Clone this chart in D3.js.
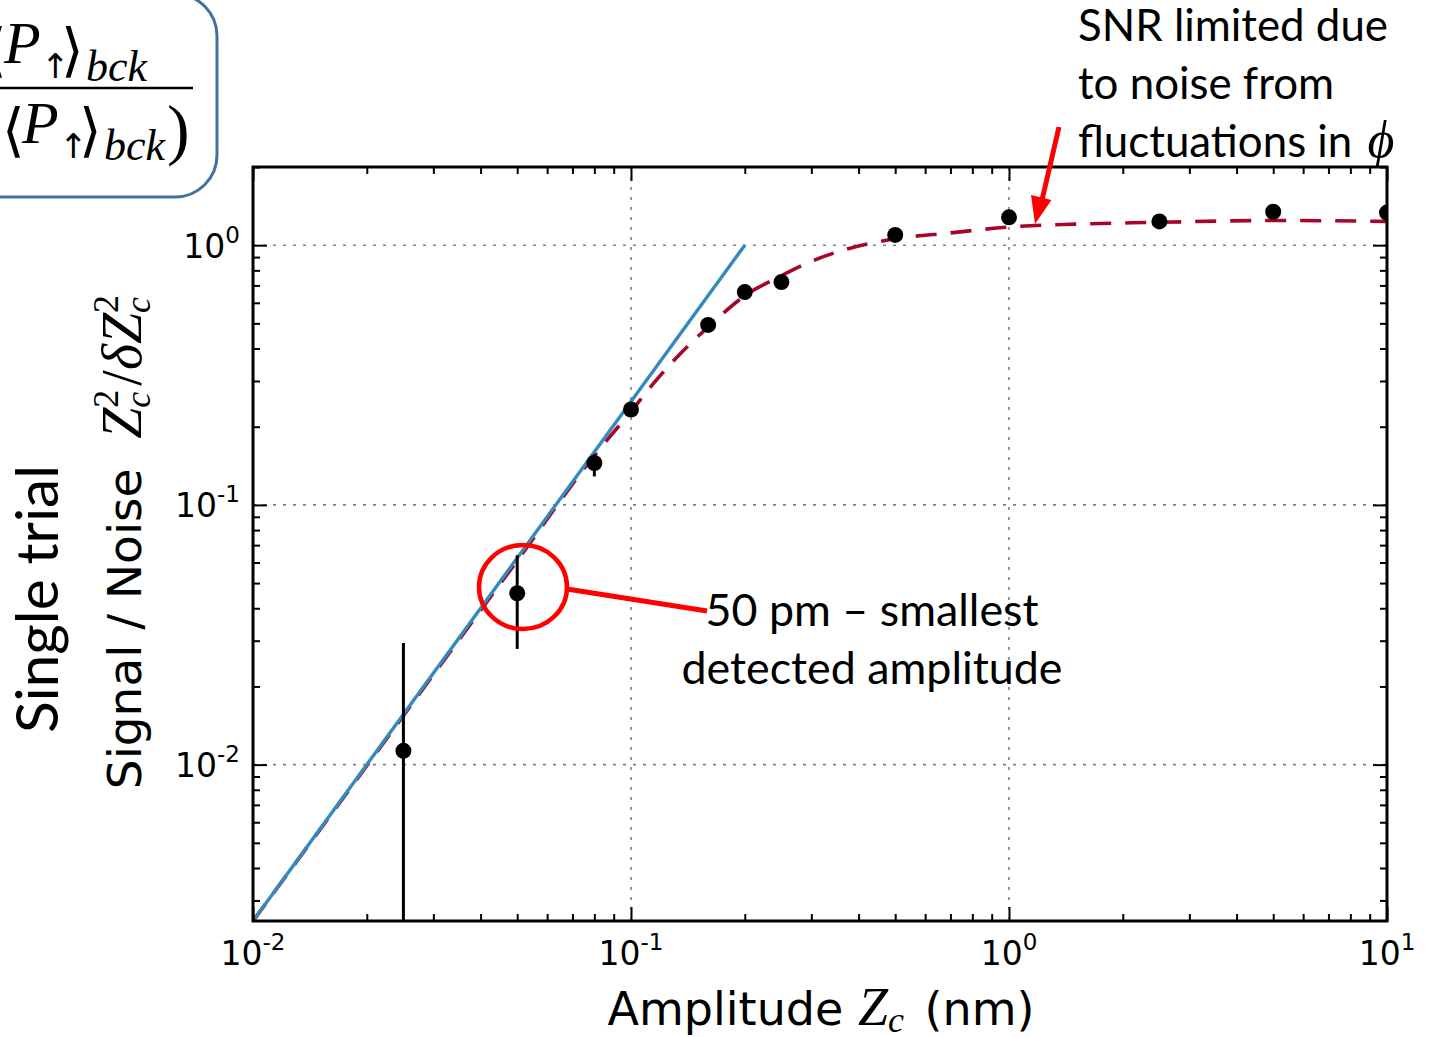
<!doctype html>
<html>
<head>
<script src="https://cdn.jsdelivr.net/npm/d3@7"></script>
<style>
  body { margin: 0; background: #fff; }
  svg { display: block; }
</style>
</head>
<body>
<svg id="chart" width="1429" height="1037"></svg>
<script>
// measured points (amplitude in nm, single-trial SNR)
var ampX  = [0.025, 0.05, 0.08, 0.1, 0.16, 0.2, 0.25, 0.5, 1, 2.5, 5, 10];
var snrY  = [0.0113, 0.0457, 0.145, 0.233, 0.493, 0.66, 0.721, 1.095, 1.28, 1.235, 1.345, 1.335];
var errLo = [0.001, 0.0279, 0.1287, null, null, null, null, null, null, null, null, null];
var errHi = [0.0294, 0.064, 0.157, null, null, null, null, null, null, null, null, null];

// dashed fit
var fitX = [0.01, 0.02, 0.03, 0.05, 0.08, 0.1, 0.115, 0.135, 0.159, 0.203, 0.243, 0.301, 0.38, 0.5, 0.7, 1, 1.5, 2.5, 5, 10];
var fitY = [0.0025, 0.0099, 0.0222, 0.061, 0.155, 0.229, 0.295, 0.382, 0.48, 0.648, 0.747, 0.868, 0.974, 1.058, 1.115, 1.175, 1.205, 1.225, 1.245, 1.235];

// straight Z^2 guide line
var lineX = [0.01, 0.2];
var lineY = [0.0025, 1.0];

var xMajor = [0.01, 0.1, 1, 10];
var xExp   = ["-2", "-1", "0", "1"];
var yMajor = [0.01, 0.1, 1];
var yExp   = ["-2", "-1", "0"];

var SANS = "DejaVu Sans", SERIF = "Liberation Serif", CAL = "Lato";
var RED = "#ff0000";

var svg = d3.select("#chart");
var L = 253, R = 1387, T = 167, B = 921;

var x = d3.scaleLog().domain([0.01, 10]).range([L, R]);
var y = d3.scaleLog().domain([0.0025, 2]).range([B, T]);

function isMinor(d) {
  var l = Math.log10(d);
  return Math.abs(l - Math.round(l)) > 1e-6;
}
var xMinor = x.ticks().filter(isMinor);
var yMinor = y.ticks().filter(isMinor);

svg.append("defs").append("clipPath").attr("id", "plotclip")
  .append("rect").attr("x", L).attr("y", T).attr("width", R - L).attr("height", B - T);

// grid
var grid = svg.append("g").attr("stroke", "#808080").attr("stroke-width", 1.6)
  .attr("stroke-dasharray", "3,7");
grid.selectAll(".gx").data(xMajor.slice(1, -1)).enter().append("line")
  .attr("x1", d => x(d)).attr("x2", d => x(d)).attr("y1", T).attr("y2", B);
grid.selectAll(".gy").data(yMajor).enter().append("line")
  .attr("y1", d => y(d)).attr("y2", d => y(d)).attr("x1", L).attr("x2", R);

var plot = svg.append("g").attr("clip-path", "url(#plotclip)");

// fit curve
var fitLine = d3.line().x(d => x(d[0])).y(d => y(d[1])).curve(d3.curveMonotoneX);
plot.append("path")
  .datum(fitX.map((v, i) => [v, fitY[i]]))
  .attr("d", fitLine)
  .attr("fill", "none").attr("stroke", "#A60628").attr("stroke-width", 3.6)
  .attr("stroke-dasharray", "21,14");

plot.append("path")
  .datum(lineX.map((v, i) => [v, lineY[i]]))
  .attr("d", d3.line().x(d => x(d[0])).y(d => y(d[1])))
  .attr("fill", "none").attr("stroke", "#348ABD").attr("stroke-width", 3.4);

// error bars + points
var pts = ampX.map((v, i) => ({x: v, y: snrY[i], lo: errLo[i], hi: errHi[i]}));
plot.selectAll(".err").data(pts.filter(d => d.lo != null)).enter().append("line")
  .attr("x1", d => x(d.x)).attr("x2", d => x(d.x))
  .attr("y1", d => y(d.lo)).attr("y2", d => y(d.hi))
  .attr("stroke", "#000").attr("stroke-width", 3);
plot.selectAll(".pt").data(pts).enter().append("circle")
  .attr("cx", d => x(d.x)).attr("cy", d => y(d.y)).attr("r", 8)
  .attr("fill", "#000");

// axes (ticks inside, mirrored)
function styleAxis(g) {
  g.select(".domain").remove();
  g.selectAll(".tick line").attr("stroke", "#000").attr("stroke-width", 2);
}
function addAxis(axisFn, scale, vals, size, tr) {
  svg.append("g").attr("transform", tr)
    .call(axisFn(scale).tickValues(vals).tickSize(-size).tickSizeOuter(0).tickFormat(""))
    .call(styleAxis);
}
[[xMajor, 14], [xMinor, 7]].forEach(function (p) {
  addAxis(d3.axisBottom, x, p[0], p[1], "translate(0," + B + ")");
  addAxis(d3.axisTop, x, p[0], p[1], "translate(0," + T + ")");
});
[[yMajor, 14], [yMinor, 7]].forEach(function (p) {
  addAxis(d3.axisLeft, y, p[0], p[1], "translate(" + L + ",0)");
  addAxis(d3.axisRight, y, p[0], p[1], "translate(" + R + ",0)");
});

svg.append("rect").attr("x", L).attr("y", T).attr("width", R - L).attr("height", B - T)
  .attr("fill", "none").attr("stroke", "#000").attr("stroke-width", 3);

// tick labels
xMajor.forEach(function (v, i) {
  var t = svg.append("text").attr("x", x(v)).attr("y", 965).attr("text-anchor", "middle")
    .style("font-family", SANS).style("font-size", "33px");
  t.append("tspan").text("10");
  t.append("tspan").attr("dy", -15).style("font-size", "23px").text(xExp[i]);
});
yMajor.forEach(function (v, i) {
  var t = svg.append("text").attr("x", 240).attr("y", y(v) + 12.5).attr("text-anchor", "end")
    .style("font-family", SANS).style("font-size", "33px");
  t.append("tspan").text("10");
  t.append("tspan").attr("dy", -15).style("font-size", "23px").text(yExp[i]);
});

// run of mixed text pieces laid out left to right, centred on cx
function mathRun(g, parts, cx) {
  var inner = g.append("g");
  var cur = 0, held = 0;
  parts.forEach(function (p) {
    var t = inner.append("text").attr("x", cur + (p.dx || 0)).attr("y", p.dy || 0)
      .style("font-family", p.f).style("font-size", p.size + "px")
      .style("font-style", p.it ? "italic" : "normal")
      .style("white-space", "pre").text(p.s);
    var w = t.node().getComputedTextLength() + (p.dx || 0);
    if (p.hold) { held = w; }
    else { cur += Math.max(w, held); held = 0; }
  });
  inner.attr("transform", "translate(" + (cx - cur / 2) + ",0)");
}

// x label
mathRun(svg.append("g").attr("transform", "translate(0,1025)"), [
  {s: "Amplitude ", f: SANS, size: 46},
  {s: "Z", f: SERIF, it: true, size: 54},
  {s: "c", f: SERIF, it: true, size: 36, dy: 7},
  {s: " (nm)", f: SANS, size: 46, dx: 6}
], 821);

// y label
mathRun(svg.append("g").attr("transform", "translate(141,542) rotate(-90)"), [
  {s: "Signal / Noise  ", f: SANS, size: 47},
  {s: "Z", f: SERIF, it: true, size: 56},
  {s: "2", f: SERIF, size: 36, dy: -23, hold: true},
  {s: "c", f: SERIF, it: true, size: 36, dy: 9},
  {s: "/", f: SERIF, size: 56, dx: 4},
  {s: "δ", f: SERIF, it: true, size: 56},
  {s: "Z", f: SERIF, it: true, size: 56},
  {s: "2", f: SERIF, size: 36, dy: -23, hold: true},
  {s: "c", f: SERIF, it: true, size: 36, dy: 9}
], 0);

// Calibri-like annotation text, sized to the widths in the slide
function fitSize(str, target) {
  var t = svg.append("text").style("font-family", CAL).style("font-size", "100px").text(str);
  var w = t.node().getComputedTextLength();
  t.remove();
  return 100 * target / w;
}

svg.append("text")
  .attr("transform", "translate(58,599) rotate(-90)").attr("text-anchor", "middle")
  .style("font-family", CAL).style("font-size", fitSize("Single trial", 268) + "px")
  .text("Single trial");

var fsTop = fitSize("SNR limited due", 310);
["SNR limited due", "to noise from", "fluctuations in "].forEach(function (s, i) {
  var t = svg.append("text").attr("x", 1078).attr("y", 41 + i * 58)
    .style("font-family", CAL).style("font-size", fsTop + "px").style("white-space", "pre").text(s);
  if (i === 2) {
    var w = t.node().getComputedTextLength();
    svg.append("text").attr("x", 1078 + w + 4).attr("y", 157)
      .style("font-family", SERIF).style("font-style", "italic").style("font-size", "52px")
      .text("ϕ");
  }
});

var fsMid = fitSize("detected amplitude", 381);
["50 pm – smallest", "detected amplitude"].forEach(function (s, i) {
  svg.append("text").attr("x", 872).attr("y", 626 + i * 58).attr("text-anchor", "middle")
    .style("font-family", CAL).style("font-size", fsMid + "px").text(s);
});

// red callouts
svg.append("ellipse").attr("cx", 523).attr("cy", 587).attr("rx", 44).attr("ry", 42)
  .attr("fill", "none").attr("stroke", RED).attr("stroke-width", 4.5);
svg.append("line").attr("x1", 567).attr("y1", 589).attr("x2", 707).attr("y2", 611)
  .attr("stroke", RED).attr("stroke-width", 5);
svg.append("line").attr("x1", 1059).attr("y1", 127).attr("x2", 1042).attr("y2", 200)
  .attr("stroke", RED).attr("stroke-width", 5);
svg.append("polygon").attr("points", "1035,224 1051.5,200 1031,195").attr("fill", RED);

// formula box, cut by the slide edge
svg.append("rect").attr("x", -60).attr("y", -6).attr("width", 277).attr("height", 203).attr("rx", 42)
  .attr("fill", "none").attr("stroke", "#41719C").attr("stroke-width", 3);
var fm = svg.append("g");
function ft(s, xx, yy, size, it, fam) {
  fm.append("text").attr("x", xx).attr("y", yy)
    .style("font-family", fam || SERIF).style("font-size", size + "px")
    .style("font-style", it ? "italic" : "normal").text(s);
}
ft("⟨", -16, 70, 58, false, "DejaVu Serif");
ft("P", 4, 63, 60, true);
ft("↑", 41, 78, 34, false, "DejaVu Sans");
ft("⟩", 61, 70, 58, false, "DejaVu Serif");
ft("bck", 86, 81, 44, true);
fm.append("line").attr("x1", 0).attr("x2", 193).attr("y1", 88).attr("y2", 88)
  .attr("stroke", "#000").attr("stroke-width", 2.5);
ft("⟨", 2, 150, 58, false, "DejaVu Serif");
ft("P", 22, 143, 60, true);
ft("↑", 59, 158, 34, false, "DejaVu Sans");
ft("⟩", 79, 150, 58, false, "DejaVu Serif");
ft("bck", 104, 160, 44, true);
ft(")", 167, 152, 68, false);
</script>
</body>
</html>
